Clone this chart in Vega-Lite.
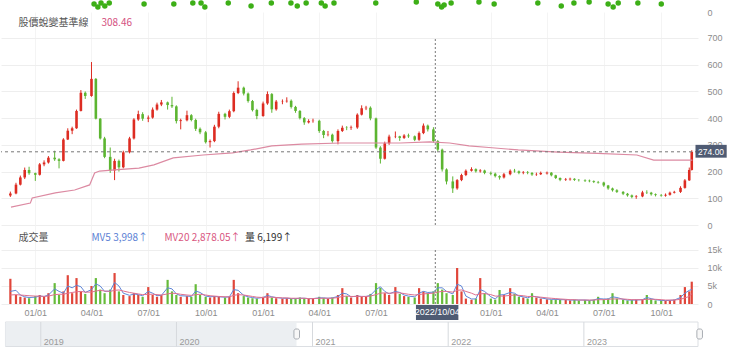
{
"$schema":"https://vega.github.io/schema/vega-lite/v6.json",
"padding":0,
"bounds":"flush",
"spacing":0,
"background":"white",
"config":{"view":{"stroke":null},"axis":{"labelFont":"Liberation Sans","labelFontSize":9,"labelColor":"#8c8c8c","domain":false,"ticks":false,"gridColor":"#eeeeee","titleFontSize":0,"labelOverlap":false,"labelFlush":false}},
"datasets":{
"k":[
{"d":"2020-11-22","o":110,"c":118,"h":125,"l":105,"v":7000,"m5":3500,"m20":2500},
{"d":"2020-12-01","o":118,"c":151,"h":158,"l":115,"v":2500,"m5":3800,"m20":2600},
{"d":"2020-12-08","o":151,"c":178,"h":185,"l":148,"v":2000,"m5":2500,"m20":2500},
{"d":"2020-12-15","o":178,"c":206,"h":215,"l":172,"v":1800,"m5":2000,"m20":2400},
{"d":"2020-12-22","o":206,"c":194,"h":218,"l":188,"v":1600,"m5":1800,"m20":2300},
{"d":"2021-01-01","o":194,"c":188,"h":196,"l":165,"v":2200,"m5":1900,"m20":2200},
{"d":"2021-01-08","o":188,"c":227,"h":232,"l":185,"v":2500,"m5":2200,"m20":2200},
{"d":"2021-01-15","o":227,"c":234,"h":242,"l":220,"v":2000,"m5":2100,"m20":2100},
{"d":"2021-01-22","o":234,"c":252,"h":258,"l":230,"v":3000,"m5":2500,"m20":2200},
{"d":"2021-02-01","o":252,"c":246,"h":278,"l":240,"v":5800,"m5":4200,"m20":2600},
{"d":"2021-02-08","o":246,"c":240,"h":250,"l":212,"v":2500,"m5":3500,"m20":2700},
{"d":"2021-02-15","o":240,"c":320,"h":325,"l":238,"v":3500,"m5":3000,"m20":2700},
{"d":"2021-02-22","o":320,"c":353,"h":362,"l":318,"v":8000,"m5":5000,"m20":3000},
{"d":"2021-03-01","o":353,"c":362,"h":368,"l":340,"v":3000,"m5":4500,"m20":3200},
{"d":"2021-03-08","o":362,"c":427,"h":432,"l":360,"v":7200,"m5":5200,"m20":3400},
{"d":"2021-03-15","o":427,"c":495,"h":505,"l":425,"v":3500,"m5":4800,"m20":3500},
{"d":"2021-03-22","o":495,"c":483,"h":500,"l":472,"v":2800,"m5":3200,"m20":3300},
{"d":"2021-04-01","o":483,"c":547,"h":610,"l":480,"v":5000,"m5":4000,"m20":3300},
{"d":"2021-04-08","o":547,"c":398,"h":550,"l":395,"v":7200,"m5":5600,"m20":3600},
{"d":"2021-04-15","o":398,"c":324,"h":400,"l":320,"v":4000,"m5":5000,"m20":3800},
{"d":"2021-04-22","o":324,"c":255,"h":330,"l":250,"v":3000,"m5":3500,"m20":3600},
{"d":"2021-05-01","o":255,"c":204,"h":290,"l":195,"v":4000,"m5":3600,"m20":3500},
{"d":"2021-05-08","o":204,"c":240,"h":248,"l":168,"v":8600,"m5":6000,"m20":3800},
{"d":"2021-05-15","o":240,"c":216,"h":245,"l":200,"v":3500,"m5":5000,"m20":3900},
{"d":"2021-05-22","o":216,"c":272,"h":278,"l":212,"v":2500,"m5":3000,"m20":3600},
{"d":"2021-06-01","o":272,"c":324,"h":330,"l":268,"v":2200,"m5":2400,"m20":3200},
{"d":"2021-06-08","o":324,"c":395,"h":400,"l":320,"v":3000,"m5":2800,"m20":3000},
{"d":"2021-06-15","o":395,"c":415,"h":428,"l":390,"v":2500,"m5":2600,"m20":2800},
{"d":"2021-06-22","o":415,"c":398,"h":422,"l":390,"v":2000,"m5":2300,"m20":2600},
{"d":"2021-07-01","o":398,"c":402,"h":410,"l":385,"v":4700,"m5":3500,"m20":2700},
{"d":"2021-07-08","o":402,"c":432,"h":440,"l":398,"v":2500,"m5":3000,"m20":2700},
{"d":"2021-07-15","o":432,"c":451,"h":458,"l":428,"v":2000,"m5":2300,"m20":2600},
{"d":"2021-07-22","o":451,"c":459,"h":468,"l":445,"v":2500,"m5":2400,"m20":2500},
{"d":"2021-08-01","o":459,"c":449,"h":462,"l":432,"v":6700,"m5":4500,"m20":2800},
{"d":"2021-08-08","o":449,"c":444,"h":480,"l":438,"v":3500,"m5":4200,"m20":3000},
{"d":"2021-08-15","o":444,"c":389,"h":448,"l":380,"v":2500,"m5":2800,"m20":2900},
{"d":"2021-08-22","o":389,"c":392,"h":398,"l":358,"v":2000,"m5":2300,"m20":2700},
{"d":"2021-09-01","o":392,"c":411,"h":428,"l":388,"v":2200,"m5":2200,"m20":2500},
{"d":"2021-09-08","o":411,"c":393,"h":415,"l":388,"v":2000,"m5":2100,"m20":2400},
{"d":"2021-09-15","o":393,"c":360,"h":398,"l":352,"v":5500,"m5":3600,"m20":2600},
{"d":"2021-09-22","o":360,"c":347,"h":365,"l":340,"v":2500,"m5":3200,"m20":2700},
{"d":"2021-10-01","o":347,"c":310,"h":352,"l":305,"v":2000,"m5":2200,"m20":2500},
{"d":"2021-10-08","o":310,"c":314,"h":320,"l":290,"v":1800,"m5":2000,"m20":2300},
{"d":"2021-10-15","o":314,"c":368,"h":375,"l":310,"v":2200,"m5":2100,"m20":2200},
{"d":"2021-10-22","o":368,"c":416,"h":424,"l":362,"v":2000,"m5":2000,"m20":2100},
{"d":"2021-11-01","o":416,"c":405,"h":420,"l":395,"v":1800,"m5":1900,"m20":2000},
{"d":"2021-11-08","o":405,"c":426,"h":432,"l":400,"v":2000,"m5":2000,"m20":2000},
{"d":"2021-11-15","o":426,"c":494,"h":500,"l":422,"v":6700,"m5":4000,"m20":2400},
{"d":"2021-11-22","o":494,"c":514,"h":538,"l":490,"v":3000,"m5":3800,"m20":2600},
{"d":"2021-12-01","o":514,"c":492,"h":518,"l":485,"v":2200,"m5":2400,"m20":2500},
{"d":"2021-12-08","o":492,"c":464,"h":496,"l":458,"v":1800,"m5":2000,"m20":2300},
{"d":"2021-12-15","o":464,"c":430,"h":468,"l":425,"v":1600,"m5":1800,"m20":2100},
{"d":"2021-12-22","o":430,"c":408,"h":435,"l":396,"v":1500,"m5":1600,"m20":1900},
{"d":"2022-01-01","o":408,"c":455,"h":462,"l":405,"v":2000,"m5":1800,"m20":1800},
{"d":"2022-01-08","o":455,"c":490,"h":500,"l":450,"v":3000,"m5":2400,"m20":1900},
{"d":"2022-01-15","o":490,"c":433,"h":494,"l":420,"v":1800,"m5":2000,"m20":1900},
{"d":"2022-01-22","o":433,"c":462,"h":468,"l":428,"v":1600,"m5":1800,"m20":1800},
{"d":"2022-02-01","o":462,"c":463,"h":470,"l":452,"v":1500,"m5":1600,"m20":1700},
{"d":"2022-02-08","o":463,"c":465,"h":478,"l":458,"v":1600,"m5":1600,"m20":1700},
{"d":"2022-02-15","o":465,"c":442,"h":470,"l":436,"v":1400,"m5":1500,"m20":1600},
{"d":"2022-02-22","o":442,"c":427,"h":446,"l":420,"v":1500,"m5":1500,"m20":1600},
{"d":"2022-03-01","o":427,"c":400,"h":430,"l":395,"v":1800,"m5":1600,"m20":1600},
{"d":"2022-03-08","o":400,"c":384,"h":404,"l":375,"v":1600,"m5":1600,"m20":1600},
{"d":"2022-03-15","o":384,"c":389,"h":396,"l":380,"v":1400,"m5":1500,"m20":1500},
{"d":"2022-03-22","o":389,"c":390,"h":398,"l":383,"v":1500,"m5":1500,"m20":1500},
{"d":"2022-04-01","o":390,"c":352,"h":394,"l":345,"v":2000,"m5":1700,"m20":1600},
{"d":"2022-04-08","o":352,"c":337,"h":356,"l":325,"v":1700,"m5":1700,"m20":1600},
{"d":"2022-04-15","o":337,"c":338,"h":352,"l":332,"v":1500,"m5":1600,"m20":1600},
{"d":"2022-04-22","o":338,"c":314,"h":342,"l":308,"v":1800,"m5":1700,"m20":1600},
{"d":"2022-05-01","o":314,"c":352,"h":358,"l":302,"v":2500,"m5":2100,"m20":1800},
{"d":"2022-05-08","o":352,"c":364,"h":372,"l":348,"v":4400,"m5":3000,"m20":2100},
{"d":"2022-05-15","o":364,"c":363,"h":370,"l":355,"v":2200,"m5":2800,"m20":2200},
{"d":"2022-05-22","o":363,"c":365,"h":372,"l":356,"v":1800,"m5":2000,"m20":2100},
{"d":"2022-06-01","o":365,"c":413,"h":418,"l":360,"v":2500,"m5":2200,"m20":2100},
{"d":"2022-06-08","o":413,"c":437,"h":448,"l":410,"v":2000,"m5":2100,"m20":2100},
{"d":"2022-06-15","o":437,"c":439,"h":446,"l":430,"v":2200,"m5":2100,"m20":2100},
{"d":"2022-06-22","o":439,"c":399,"h":444,"l":392,"v":2800,"m5":2400,"m20":2200},
{"d":"2022-07-01","o":399,"c":290,"h":402,"l":285,"v":5800,"m5":4000,"m20":2600},
{"d":"2022-07-08","o":290,"c":248,"h":295,"l":230,"v":4500,"m5":4800,"m20":3000},
{"d":"2022-07-15","o":248,"c":306,"h":312,"l":245,"v":3000,"m5":3500,"m20":3100},
{"d":"2022-07-22","o":306,"c":331,"h":338,"l":300,"v":2500,"m5":2800,"m20":3000},
{"d":"2022-08-01","o":331,"c":332,"h":350,"l":325,"v":4700,"m5":3500,"m20":3100},
{"d":"2022-08-08","o":332,"c":326,"h":334,"l":315,"v":2800,"m5":3200,"m20":3100},
{"d":"2022-08-15","o":326,"c":335,"h":340,"l":322,"v":2200,"m5":2500,"m20":2900},
{"d":"2022-08-22","o":335,"c":332,"h":342,"l":326,"v":2000,"m5":2200,"m20":2700},
{"d":"2022-09-01","o":332,"c":319,"h":335,"l":314,"v":1800,"m5":2000,"m20":2500},
{"d":"2022-09-08","o":319,"c":344,"h":350,"l":315,"v":4400,"m5":3000,"m20":2600},
{"d":"2022-09-15","o":344,"c":372,"h":380,"l":340,"v":3500,"m5":3500,"m20":2800},
{"d":"2022-09-22","o":372,"c":358,"h":376,"l":350,"v":3000,"m5":3200,"m20":2900},
{"d":"2022-10-01","o":358,"c":314,"h":366,"l":308,"v":3500,"m5":3300,"m20":3000},
{"d":"2022-10-08","o":314,"c":282,"h":318,"l":276,"v":5800,"m5":4500,"m20":3300},
{"d":"2022-10-15","o":282,"c":208,"h":286,"l":200,"v":4000,"m5":4500,"m20":3500},
{"d":"2022-10-22","o":208,"c":163,"h":212,"l":152,"v":3000,"m5":3500,"m20":3500},
{"d":"2022-11-01","o":163,"c":137,"h":182,"l":120,"v":2500,"m5":2800,"m20":3300},
{"d":"2022-11-08","o":137,"c":168,"h":172,"l":132,"v":10000,"m5":5500,"m20":3800},
{"d":"2022-11-15","o":168,"c":187,"h":192,"l":164,"v":3500,"m5":5000,"m20":3900},
{"d":"2022-11-22","o":187,"c":203,"h":208,"l":183,"v":1500,"m5":2200,"m20":3500},
{"d":"2022-12-01","o":203,"c":209,"h":216,"l":200,"v":1200,"m5":1400,"m20":3000},
{"d":"2022-12-08","o":209,"c":201,"h":212,"l":196,"v":1500,"m5":1400,"m20":2500},
{"d":"2022-12-15","o":201,"c":204,"h":209,"l":196,"v":7200,"m5":4000,"m20":2800},
{"d":"2022-12-22","o":204,"c":195,"h":207,"l":190,"v":3000,"m5":3500,"m20":2900},
{"d":"2023-01-01","o":195,"c":192,"h":200,"l":186,"v":1500,"m5":2000,"m20":2600},
{"d":"2023-01-08","o":192,"c":183,"h":196,"l":178,"v":1200,"m5":1400,"m20":2200},
{"d":"2023-01-15","o":183,"c":178,"h":186,"l":170,"v":3900,"m5":2500,"m20":2200},
{"d":"2023-01-22","o":178,"c":190,"h":195,"l":174,"v":2500,"m5":2600,"m20":2200},
{"d":"2023-02-01","o":190,"c":203,"h":208,"l":186,"v":4400,"m5":3200,"m20":2400},
{"d":"2023-02-08","o":203,"c":201,"h":210,"l":196,"v":2800,"m5":3000,"m20":2500},
{"d":"2023-02-15","o":201,"c":195,"h":204,"l":190,"v":2000,"m5":2200,"m20":2400},
{"d":"2023-02-22","o":195,"c":197,"h":202,"l":190,"v":1800,"m5":2000,"m20":2300},
{"d":"2023-03-01","o":197,"c":195,"h":202,"l":190,"v":1500,"m5":1700,"m20":2100},
{"d":"2023-03-08","o":195,"c":189,"h":198,"l":184,"v":3000,"m5":2200,"m20":2100},
{"d":"2023-03-15","o":189,"c":190,"h":196,"l":184,"v":1800,"m5":2000,"m20":2000},
{"d":"2023-03-22","o":190,"c":195,"h":200,"l":187,"v":1500,"m5":1700,"m20":1900},
{"d":"2023-04-01","o":193,"c":196,"h":200,"l":189,"v":1300,"m5":1400,"m20":1700},
{"d":"2023-04-08","o":196,"c":186,"h":198,"l":182,"v":1200,"m5":1300,"m20":1600},
{"d":"2023-04-15","o":186,"c":176,"h":188,"l":172,"v":1300,"m5":1300,"m20":1500},
{"d":"2023-04-22","o":176,"c":169,"h":178,"l":164,"v":1200,"m5":1200,"m20":1400},
{"d":"2023-05-01","o":169,"c":171,"h":176,"l":165,"v":1100,"m5":1200,"m20":1300},
{"d":"2023-05-08","o":171,"c":173,"h":177,"l":166,"v":1000,"m5":1100,"m20":1200},
{"d":"2023-05-15","o":173,"c":169,"h":175,"l":165,"v":1200,"m5":1100,"m20":1200},
{"d":"2023-05-22","o":169,"c":168,"h":172,"l":163,"v":1000,"m5":1100,"m20":1100},
{"d":"2023-06-01","o":168,"c":166,"h":171,"l":161,"v":1100,"m5":1100,"m20":1100},
{"d":"2023-06-08","o":166,"c":164,"h":170,"l":160,"v":1000,"m5":1000,"m20":1100},
{"d":"2023-06-15","o":164,"c":161,"h":167,"l":157,"v":1200,"m5":1100,"m20":1100},
{"d":"2023-06-22","o":161,"c":159,"h":165,"l":155,"v":2000,"m5":1500,"m20":1200},
{"d":"2023-07-01","o":159,"c":148,"h":162,"l":143,"v":1300,"m5":1400,"m20":1200},
{"d":"2023-07-08","o":148,"c":137,"h":150,"l":132,"v":1500,"m5":1400,"m20":1300},
{"d":"2023-07-15","o":137,"c":130,"h":140,"l":125,"v":3000,"m5":2000,"m20":1400},
{"d":"2023-07-22","o":130,"c":124,"h":134,"l":120,"v":1500,"m5":1800,"m20":1400},
{"d":"2023-08-01","o":124,"c":117,"h":127,"l":112,"v":1200,"m5":1300,"m20":1400},
{"d":"2023-08-08","o":117,"c":111,"h":120,"l":106,"v":1000,"m5":1100,"m20":1300},
{"d":"2023-08-15","o":111,"c":105,"h":114,"l":100,"v":1100,"m5":1100,"m20":1200},
{"d":"2023-08-22","o":105,"c":107,"h":112,"l":98,"v":1200,"m5":1100,"m20":1200},
{"d":"2023-09-01","o":107,"c":122,"h":128,"l":104,"v":1300,"m5":1200,"m20":1200},
{"d":"2023-09-08","o":122,"c":121,"h":130,"l":116,"v":2500,"m5":1800,"m20":1300},
{"d":"2023-09-15","o":121,"c":115,"h":124,"l":110,"v":1300,"m5":1500,"m20":1300},
{"d":"2023-09-22","o":115,"c":112,"h":118,"l":107,"v":1000,"m5":1200,"m20":1300},
{"d":"2023-10-01","o":112,"c":110,"h":116,"l":106,"v":1000,"m5":1000,"m20":1200},
{"d":"2023-10-08","o":110,"c":113,"h":118,"l":106,"v":900,"m5":950,"m20":1100},
{"d":"2023-10-15","o":113,"c":121,"h":125,"l":110,"v":1000,"m5":1000,"m20":1100},
{"d":"2023-10-22","o":121,"c":124,"h":128,"l":118,"v":1200,"m5":1100,"m20":1100},
{"d":"2023-11-01","o":124,"c":139,"h":145,"l":120,"v":2500,"m5":1800,"m20":1300},
{"d":"2023-11-08","o":139,"c":167,"h":172,"l":136,"v":4700,"m5":3000,"m20":1700},
{"d":"2023-11-15","o":167,"c":206,"h":215,"l":165,"v":3500,"m5":3800,"m20":2100},
{"d":"2023-11-19","o":206,"c":274,"h":280,"l":204,"v":6199,"m5":3998,"m20":2878}
],
"ma":[
{"d":"2020-11-23","p":67},{"d":"2020-12-24","p":82},{"d":"2020-12-27","p":101},{"d":"2021-02-02","p":120},{"d":"2021-03-05","p":131},{"d":"2021-03-29","p":150},{"d":"2021-04-06","p":195},{"d":"2021-04-14","p":202},{"d":"2021-05-08","p":206},{"d":"2021-06-16","p":213},{"d":"2021-07-10","p":225},{"d":"2021-08-10","p":251},{"d":"2021-09-27","p":262},{"d":"2021-11-13","p":270},{"d":"2021-12-12","p":281},{"d":"2022-01-15","p":296},{"d":"2022-03-04","p":303},{"d":"2022-05-06","p":307},{"d":"2022-08-09","p":307},{"d":"2022-09-25","p":311},{"d":"2022-10-27","p":307},{"d":"2022-11-27","p":296},{"d":"2022-12-29","p":290},{"d":"2023-02-14","p":281},{"d":"2023-04-19","p":273},{"d":"2023-06-21","p":268},{"d":"2023-08-23","p":262},{"d":"2023-09-19","p":243},{"d":"2023-11-20","p":243}
],
"dots":[
{"d":"2021-04-11","y":8},{"d":"2021-04-17","y":5},{"d":"2021-04-22","y":9},{"d":"2021-04-28","y":6},{"d":"2021-05-05","y":9},{"d":"2021-06-29","y":8},{"d":"2021-08-15","y":8},{"d":"2021-09-14","y":9},{"d":"2021-09-27","y":9},{"d":"2021-10-03","y":5},{"d":"2021-11-09","y":9},{"d":"2021-12-15","y":6},{"d":"2022-01-16","y":9},{"d":"2022-02-16","y":9},{"d":"2022-02-26","y":6},{"d":"2022-03-12","y":9},{"d":"2022-04-05","y":9},{"d":"2022-04-11","y":6},{"d":"2022-04-25","y":9},{"d":"2022-06-30","y":9},{"d":"2022-09-02","y":10},{"d":"2022-10-06","y":8},{"d":"2022-10-12","y":5},{"d":"2022-10-16","y":7},{"d":"2022-10-27","y":9},{"d":"2022-12-10","y":10},{"d":"2023-01-03","y":8},{"d":"2023-03-13","y":9},{"d":"2023-04-19","y":6},{"d":"2023-05-09","y":9},{"d":"2023-06-02","y":10},{"d":"2023-07-02","y":8},{"d":"2023-07-10","y":5},{"d":"2023-07-18","y":9},{"d":"2023-08-18","y":9},{"d":"2023-09-24","y":8}
]
},
"vconcat":[
{
"width":697,"height":12,
"data":{"name":"dots"},
"mark":{"type":"circle","size":30,"color":"#3daf17","opacity":1,"clip":true},
"encoding":{
"x":{"field":"d","type":"temporal","title":null,"scale":{"domain":[{"year":2020,"month":11,"date":15},{"year":2023,"month":11,"date":21}]},"axis":null},
"y":{"field":"y","type":"quantitative","title":null,"scale":{"domain":[0,12],"nice":false},"axis":{"orient":"right","values":[0],"tickCount":20,"format":".0f","grid":false,"labelPadding":9}}
}
},
{
"width":697,"height":213,
"layer":[
{"data":{"name":"k"},"mark":{"type":"rule","clip":true,"strokeWidth":1},
"encoding":{
"x":{"field":"d","type":"temporal","title":null,"scale":{"domain":[{"year":2020,"month":11,"date":15},{"year":2023,"month":11,"date":21}]},"axis":{"values":[{"year":2021,"month":1,"date":1},{"year":2021,"month":4,"date":1},{"year":2021,"month":7,"date":1},{"year":2021,"month":10,"date":1},{"year":2022,"month":1,"date":1},{"year":2022,"month":4,"date":1},{"year":2022,"month":7,"date":1},{"year":2023,"month":1,"date":1},{"year":2023,"month":4,"date":1},{"year":2023,"month":7,"date":1},{"year":2023,"month":10,"date":1}],"tickCount":30,"labels":false,"grid":true,"gridColor":"#f4f4f4"}},
"y":{"field":"l","type":"quantitative","title":null,"scale":{"domain":[0,797.3],"nice":false,"zero":false},"axis":{"orient":"right","values":[0,100,200,300,400,500,600,700],"tickCount":20,"format":".0f","grid":true,"labelPadding":9,"zindex":0}},
"y2":{"field":"h"},
"color":{"condition":{"test":"datum.c >= datum.o","value":"#dd2c22"},"value":"#5cb531"}
}},
{"data":{"name":"k"},"mark":{"type":"bar","size":2.6,"clip":true},
"encoding":{
"x":{"field":"d","type":"temporal","title":null},
"y":{"field":"o","type":"quantitative","title":null},
"y2":{"field":"c"},
"color":{"condition":{"test":"datum.c >= datum.o","value":"#dd2c22"},"value":"#5cb531"}
}},
{"data":{"name":"ma"},"mark":{"type":"line","color":"#dc8aa2","strokeWidth":1.2,"clip":true},
"encoding":{"x":{"field":"d","type":"temporal","title":null},"y":{"field":"p","type":"quantitative","title":null}}},
{"data":{"values":[{"d":"2022-10-04","a":0,"b":700}]},"mark":{"type":"rule","color":"#777777","strokeDash":[2,2],"strokeWidth":1},
"encoding":{"x":{"field":"d","type":"temporal","title":null},"y":{"field":"a","type":"quantitative","title":null},"y2":{"field":"b"}}},
{"data":{"values":[{"p":274}]},"mark":{"type":"rule","color":"#777777","strokeDash":[3,3],"strokeWidth":1},
"encoding":{"y":{"field":"p","type":"quantitative","title":null}}},
{"data":{"values":[{"d":"2020-12-05","p":756,"t":"股價蛻變基準線","k":"a"},{"d":"2021-04-17","p":756,"t":"308.46","k":"b"}]},
"mark":{"type":"text","align":"left","baseline":"middle","font":"Noto Sans CJK TC","fontSize":10},
"encoding":{"x":{"field":"d","type":"temporal","title":null},"y":{"field":"p","type":"quantitative","title":null},"text":{"field":"t"},
"color":{"condition":{"test":"datum.k == 'b'","value":"#d4517f"},"value":"#555555"}}},
{"data":{"values":[{"a":"2023-11-25","b":"2024-01-14","lo":252,"hi":300}]},"mark":{"type":"rect","color":"#4f5b73","clip":false},
"encoding":{"x":{"field":"a","type":"temporal","title":null},"x2":{"field":"b"},"y":{"field":"lo","type":"quantitative","title":null},"y2":{"field":"hi"}}},
{"data":{"values":[{"d":"2023-12-20","p":273,"t":"274.00"}]},"mark":{"type":"text","align":"center","baseline":"middle","font":"Liberation Sans","fontSize":8.5,"color":"white","clip":false},
"encoding":{"x":{"field":"d","type":"temporal","title":null},"y":{"field":"p","type":"quantitative","title":null},"text":{"field":"t"}}}
]
},
{
"width":697,"height":79,
"layer":[
{"data":{"name":"k"},"mark":{"type":"bar","size":2.2,"clip":true},
"encoding":{
"x":{"field":"d","type":"temporal","title":null,"scale":{"domain":[{"year":2020,"month":11,"date":15},{"year":2023,"month":11,"date":21}]},"axis":{"values":[{"year":2021,"month":1,"date":1},{"year":2021,"month":4,"date":1},{"year":2021,"month":7,"date":1},{"year":2021,"month":10,"date":1},{"year":2022,"month":1,"date":1},{"year":2022,"month":4,"date":1},{"year":2022,"month":7,"date":1},{"year":2023,"month":1,"date":1},{"year":2023,"month":4,"date":1},{"year":2023,"month":7,"date":1},{"year":2023,"month":10,"date":1}],"tickCount":30,"format":"%m/%d","grid":true,"gridColor":"#f4f4f4","labelPadding":4}},
"y":{"field":"v","type":"quantitative","title":null,"scale":{"domain":[0,21944],"nice":false},"axis":{"orient":"right","values":[0,5000,10000,15000],"tickCount":20,"labelExpr":"datum.value == 0 ? '0' : (datum.value / 1000) + 'k'","grid":true,"labelPadding":9}},
"color":{"condition":{"test":"datum.c >= datum.o","value":"#e0463a"},"value":"#66bb3a"}
}},
{"data":{"name":"k"},"mark":{"type":"line","color":"#5f86d8","strokeWidth":1,"clip":true},
"encoding":{"x":{"field":"d","type":"temporal","title":null},"y":{"field":"m5","type":"quantitative","title":null}}},
{"data":{"name":"k"},"mark":{"type":"line","color":"#e0708f","strokeWidth":1,"clip":true},
"encoding":{"x":{"field":"d","type":"temporal","title":null},"y":{"field":"m20","type":"quantitative","title":null}}},
{"data":{"values":[{"d":"2022-10-04","a":0,"b":15000}]},"mark":{"type":"rule","color":"#777777","strokeDash":[2,2],"strokeWidth":1},
"encoding":{"x":{"field":"d","type":"temporal","title":null},"y":{"field":"a","type":"quantitative","title":null},"y2":{"field":"b"}}},
{"data":{"values":[{"d":"2020-12-05","v":18300,"t":"成交量","k":"a"},{"d":"2021-04-01","v":18300,"t":"MV5 3,998↑","k":"b"},{"d":"2021-07-27","v":18300,"t":"MV20 2,878.05↑","k":"c"},{"d":"2021-12-03","v":18300,"t":"量 6,199↑","k":"d"}]},
"mark":{"type":"text","align":"left","baseline":"middle","font":"Noto Sans CJK TC","fontSize":10},
"encoding":{"x":{"field":"d","type":"temporal","title":null},"y":{"field":"v","type":"quantitative","title":null},"text":{"field":"t"},
"color":{"condition":[{"test":"datum.k == 'b'","value":"#5b7fd4"},{"test":"datum.k == 'c'","value":"#d9577f"},{"test":"datum.k == 'd'","value":"#333333"}],"value":"#555555"}}},
{"data":{"values":[{"a":"2022-09-03","b":"2022-11-10","lo":-280,"hi":-4444}]},"mark":{"type":"rect","color":"#4f5b73","clip":false},
"encoding":{"x":{"field":"a","type":"temporal","title":null},"x2":{"field":"b"},"y":{"field":"lo","type":"quantitative","title":null},"y2":{"field":"hi"}}},
{"data":{"values":[{"d":"2022-10-07","v":-2300,"t":"2022/10/04"}]},"mark":{"type":"text","align":"center","baseline":"middle","font":"Liberation Sans","fontSize":9,"color":"white","clip":false},
"encoding":{"x":{"field":"d","type":"temporal","title":null},"y":{"field":"v","type":"quantitative","title":null},"text":{"field":"t"}}}
]
},
{
"width":697,"height":43,
"layer":[
{"data":{"values":[{"a":"2018-09-28","b":"2023-11-04","lo":18,"hi":42.5}]},"mark":{"type":"rect","fill":"white","stroke":"#dcdfe3","strokeWidth":1},
"encoding":{"x":{"field":"a","type":"temporal","title":null,"scale":{"domain":[{"year":2018,"month":9,"date":16},{"year":2023,"month":11,"date":4}]},"axis":null},"x2":{"field":"b"},
"y":{"field":"lo","type":"quantitative","title":null,"scale":{"domain":[0,43],"reverse":true,"nice":false},"axis":null},"y2":{"field":"hi"}}},
{"data":{"values":[{"a":"2018-09-28","b":"2020-11-19","lo":18.5,"hi":42}]},"mark":{"type":"rect","fill":"#eceff2"},
"encoding":{"x":{"field":"a","type":"temporal","title":null},"x2":{"field":"b"},"y":{"field":"lo","type":"quantitative","title":null},"y2":{"field":"hi"}}},
{"data":{"values":[{"d":"2019-01-01","t":"2019","lo":18,"hi":42.5},{"d":"2020-01-01","t":"2020","lo":18,"hi":42.5},{"d":"2021-01-01","t":"2021","lo":18,"hi":42.5},{"d":"2022-01-01","t":"2022","lo":18,"hi":42.5},{"d":"2023-01-01","t":"2023","lo":18,"hi":42.5}]},
"mark":{"type":"rule","color":"#d6d9dd","strokeWidth":1},
"encoding":{"x":{"field":"d","type":"temporal","title":null},"y":{"field":"lo","type":"quantitative","title":null},"y2":{"field":"hi"}}},
{"data":{"values":[{"d":"2019-01-01","t":"2019","y":37.5},{"d":"2020-01-01","t":"2020","y":37.5},{"d":"2021-01-01","t":"2021","y":37.5},{"d":"2022-01-01","t":"2022","y":37.5},{"d":"2023-01-01","t":"2023","y":37.5}]},
"mark":{"type":"text","align":"left","baseline":"middle","dx":3,"font":"Liberation Sans","fontSize":9,"color":"#9a9a9a"},
"encoding":{"x":{"field":"d","type":"temporal","title":null},"y":{"field":"y","type":"quantitative","title":null},"text":{"field":"t"}}},
{"data":{"values":[{"a":"2020-11-12","b":"2020-11-27","lo":25,"hi":35},{"a":"2023-11-01","b":"2023-11-16","lo":25,"hi":35}]},
"mark":{"type":"rect","fill":"#f7f7f7","stroke":"#a9adb3","strokeWidth":1,"cornerRadius":2,"clip":false},
"encoding":{"x":{"field":"a","type":"temporal","title":null},"x2":{"field":"b"},"y":{"field":"lo","type":"quantitative","title":null},"y2":{"field":"hi"}}}
]
}
]
}
